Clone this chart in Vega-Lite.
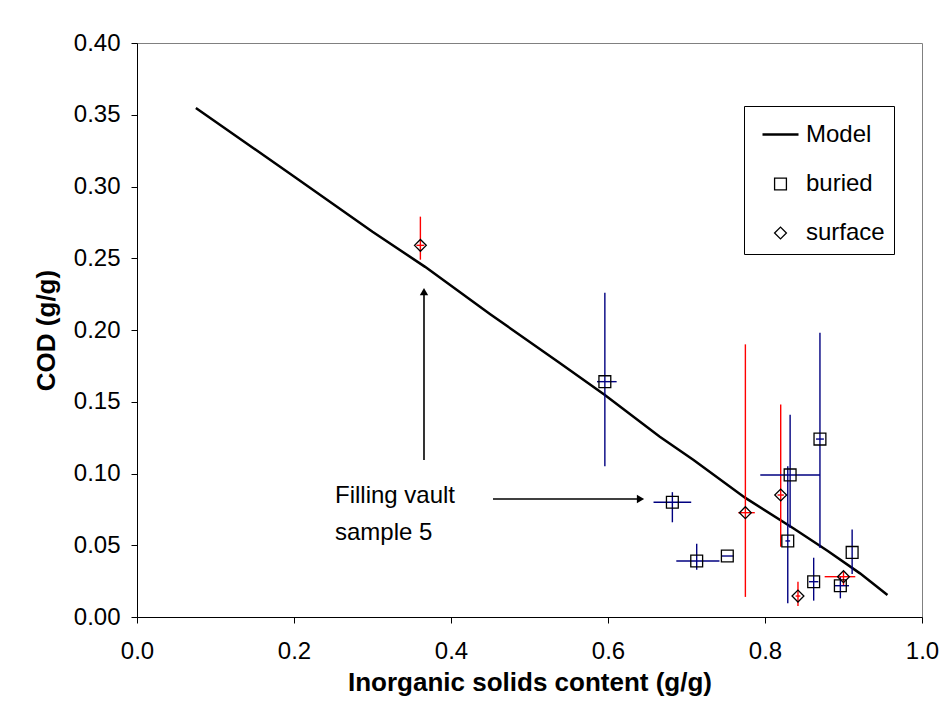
{
  "$schema": "https://vega.github.io/schema/vega-lite/v6.json",
  "width": 785,
  "height": 574,
  "autosize": {"type": "none"},
  "padding": {"left": 137, "top": 43, "right": 23, "bottom": 84},
  "background": "white",
  "config": {
    "font": "Liberation Sans",
    "view": {"stroke": "#808080", "strokeWidth": 1},
    "axis": {
      "grid": false,
      "domainColor": "black",
      "tickColor": "black",
      "labelColor": "black",
      "titleColor": "black",
      "labelFont": "Liberation Sans",
      "titleFont": "Liberation Sans",
      "labelFontSize": 24,
      "titleFontSize": 26,
      "titleFontWeight": "bold",
      "tickSize": 6,
      "domainWidth": 1,
      "tickWidth": 1,
      "labelFlush": false
    },
    "legend": {
      "orient": "none",
      "legendX": 607,
      "legendY": 63,
      "padding": 9,
      "strokeColor": "black",
      "fillColor": "white",
      "cornerRadius": 0,
      "labelFont": "Liberation Sans",
      "labelFontSize": 24,
      "labelColor": "black",
      "labelOffset": 6,
      "symbolOffset": 8,
      "rowPadding": 25,
      "symbolStrokeColor": "black",
      "symbolFillColor": "transparent"
    }
  },
  "datasets": {
    "pts": [
      {"series": "buried", "x": 0.596, "y": 0.164, "ylo": 0.105, "yhi": 0.226, "xlo": 0.586, "xhi": 0.611},
      {"series": "buried", "x": 0.682, "y": 0.080, "ylo": 0.066, "yhi": 0.087, "xlo": 0.658, "xhi": 0.706},
      {"series": "buried", "x": 0.713, "y": 0.039, "ylo": 0.033, "yhi": 0.051, "xlo": 0.687, "xhi": 0.742},
      {"series": "buried", "x": 0.752, "y": 0.0425, "ylo": 0.0425, "yhi": 0.0425, "xlo": 0.745, "xhi": 0.760},
      {"series": "buried", "x": 0.832, "y": 0.099, "ylo": 0.062, "yhi": 0.141, "xlo": 0.794, "xhi": 0.870},
      {"series": "buried", "x": 0.829, "y": 0.053, "ylo": 0.0095, "yhi": 0.105, "xlo": 0.826, "xhi": 0.832},
      {"series": "buried", "x": 0.870, "y": 0.124, "ylo": 0.048, "yhi": 0.198, "xlo": 0.865, "xhi": 0.875},
      {"series": "buried", "x": 0.911, "y": 0.045, "ylo": 0.030, "yhi": 0.061, "xlo": 0.911, "xhi": 0.911},
      {"series": "buried", "x": 0.862, "y": 0.0246, "ylo": 0.0114, "yhi": 0.0413, "xlo": 0.856, "xhi": 0.868},
      {"series": "buried", "x": 0.896, "y": 0.0218, "ylo": 0.013, "yhi": 0.028, "xlo": 0.889, "xhi": 0.907},
      {"series": "surface", "x": 0.361, "y": 0.259, "ylo": 0.249, "yhi": 0.279, "xlo": 0.356, "xhi": 0.366},
      {"series": "surface", "x": 0.775, "y": 0.0727, "ylo": 0.014, "yhi": 0.190, "xlo": 0.766, "xhi": 0.787},
      {"series": "surface", "x": 0.820, "y": 0.085, "ylo": 0.049, "yhi": 0.148, "xlo": 0.816, "xhi": 0.824},
      {"series": "surface", "x": 0.842, "y": 0.0146, "ylo": 0.0077, "yhi": 0.0246, "xlo": 0.839, "xhi": 0.845},
      {"series": "surface", "x": 0.900, "y": 0.0281, "ylo": 0.0223, "yhi": 0.0316, "xlo": 0.876, "xhi": 0.915}
    ],
    "model": [
      {"x": 0.075, "y": 0.3547},
      {"x": 0.2, "y": 0.307},
      {"x": 0.3, "y": 0.2685},
      {"x": 0.367, "y": 0.244},
      {"x": 0.45, "y": 0.211},
      {"x": 0.539, "y": 0.1768},
      {"x": 0.596, "y": 0.1547},
      {"x": 0.666, "y": 0.1256},
      {"x": 0.709, "y": 0.1094},
      {"x": 0.775, "y": 0.083},
      {"x": 0.836, "y": 0.0618},
      {"x": 0.88, "y": 0.046},
      {"x": 0.921, "y": 0.0304},
      {"x": 0.956, "y": 0.0153}
    ],
    "arrows": [
      {"x": 0.3656, "y": 0.1094, "x2": 0.3656, "y2": 0.2268},
      {"x": 0.4535, "y": 0.0822, "x2": 0.6414, "y2": 0.0822}
    ],
    "headUp": [{"x": 0.3656, "y": 0.2268}],
    "headRight": [{"x": 0.6414, "y": 0.0822}],
    "notes": [
      {"x": 0.2522, "y": 0.0842, "text": "Filling vault"},
      {"x": 0.2522, "y": 0.0585, "text": "sample 5"}
    ]
  },
  "layer": [
    {
      "data": {"name": "model"},
      "mark": {"type": "line", "color": "black", "strokeWidth": 2.5},
      "encoding": {
        "x": {"field": "x", "type": "quantitative", "scale": {"domain": [0, 1]}, "axis": {"title": "Inorganic solids content (g/g)", "values": [0, 0.2, 0.4, 0.6, 0.8, 1], "format": ".1f", "labelPadding": 16, "titlePadding": 6}},
        "y": {"field": "y", "type": "quantitative", "scale": {"domain": [0, 0.4]}, "axis": {"title": "COD (g/g)", "values": [0, 0.05, 0.1, 0.15, 0.2, 0.25, 0.3, 0.35, 0.4], "format": ".2f", "labelPadding": 11, "titlePadding": 14}}
      }
    },
    {
      "data": {"name": "pts"},
      "mark": {"type": "rule", "strokeWidth": 1.4},
      "encoding": {
        "x": {"field": "x", "type": "quantitative", "scale": {"domain": [0, 1]}, "axis": {"title": "Inorganic solids content (g/g)", "values": [0, 0.2, 0.4, 0.6, 0.8, 1], "format": ".1f", "labelPadding": 16, "titlePadding": 6}},
        "y": {"field": "ylo", "type": "quantitative", "scale": {"domain": [0, 0.4]}, "axis": {"title": "COD (g/g)", "values": [0, 0.05, 0.1, 0.15, 0.2, 0.25, 0.3, 0.35, 0.4], "format": ".2f", "labelPadding": 11, "titlePadding": 14}},
        "y2": {"field": "yhi"},
        "color": {"field": "series", "type": "nominal", "scale": {"domain": ["buried", "surface"], "range": ["#000080", "#ff0000"]}, "legend": null}
      }
    },
    {
      "data": {"name": "pts"},
      "mark": {"type": "rule", "strokeWidth": 1.4},
      "encoding": {
        "x": {"field": "xlo", "type": "quantitative", "scale": {"domain": [0, 1]}, "axis": {"title": "Inorganic solids content (g/g)", "values": [0, 0.2, 0.4, 0.6, 0.8, 1], "format": ".1f", "labelPadding": 16, "titlePadding": 6}},
        "x2": {"field": "xhi"},
        "y": {"field": "y", "type": "quantitative", "scale": {"domain": [0, 0.4]}, "axis": {"title": "COD (g/g)", "values": [0, 0.05, 0.1, 0.15, 0.2, 0.25, 0.3, 0.35, 0.4], "format": ".2f", "labelPadding": 11, "titlePadding": 14}},
        "color": {"field": "series", "type": "nominal", "scale": {"domain": ["buried", "surface"], "range": ["#000080", "#ff0000"]}, "legend": null}
      }
    },
    {
      "data": {"name": "pts"},
      "mark": {"type": "point", "filled": false, "stroke": "black", "opacity": 1},
      "encoding": {
        "x": {"field": "x", "type": "quantitative", "scale": {"domain": [0, 1]}, "axis": {"title": "Inorganic solids content (g/g)", "values": [0, 0.2, 0.4, 0.6, 0.8, 1], "format": ".1f", "labelPadding": 16, "titlePadding": 6}},
        "y": {"field": "y", "type": "quantitative", "scale": {"domain": [0, 0.4]}, "axis": {"title": "COD (g/g)", "values": [0, 0.05, 0.1, 0.15, 0.2, 0.25, 0.3, 0.35, 0.4], "format": ".2f", "labelPadding": 11, "titlePadding": 14}},
        "shape": {
          "field": "series",
          "type": "nominal",
          "scale": {"type": "ordinal", "domain": ["Model", "buried", "surface"], "range": ["stroke", "square", "diamond"]},
          "legend": {"title": null}
        },
        "size": {
          "field": "series",
          "type": "nominal",
          "scale": {"type": "ordinal", "domain": ["Model", "buried", "surface"], "range": [1296, 140, 140]},
          "legend": {"title": null}
        },
        "strokeWidth": {
          "field": "series",
          "type": "nominal",
          "scale": {"type": "ordinal", "domain": ["Model", "buried", "surface"], "range": [2.5, 1.3, 1.3]},
          "legend": {"title": null}
        }
      }
    },
    {
      "data": {"name": "arrows"},
      "mark": {"type": "rule", "color": "black", "strokeWidth": 1.6},
      "encoding": {
        "x": {"field": "x", "type": "quantitative", "scale": {"domain": [0, 1]}, "axis": {"title": "Inorganic solids content (g/g)", "values": [0, 0.2, 0.4, 0.6, 0.8, 1], "format": ".1f", "labelPadding": 16, "titlePadding": 6}},
        "x2": {"field": "x2"},
        "y": {"field": "y", "type": "quantitative", "scale": {"domain": [0, 0.4]}, "axis": {"title": "COD (g/g)", "values": [0, 0.05, 0.1, 0.15, 0.2, 0.25, 0.3, 0.35, 0.4], "format": ".2f", "labelPadding": 11, "titlePadding": 14}},
        "y2": {"field": "y2"}
      }
    },
    {
      "data": {"name": "headUp"},
      "mark": {"type": "point", "shape": "triangle-up", "filled": true, "color": "black", "size": 70, "opacity": 1},
      "encoding": {
        "x": {"field": "x", "type": "quantitative", "scale": {"domain": [0, 1]}, "axis": {"title": "Inorganic solids content (g/g)", "values": [0, 0.2, 0.4, 0.6, 0.8, 1], "format": ".1f", "labelPadding": 16, "titlePadding": 6}},
        "y": {"field": "y", "type": "quantitative", "scale": {"domain": [0, 0.4]}, "axis": {"title": "COD (g/g)", "values": [0, 0.05, 0.1, 0.15, 0.2, 0.25, 0.3, 0.35, 0.4], "format": ".2f", "labelPadding": 11, "titlePadding": 14}}
      }
    },
    {
      "data": {"name": "headRight"},
      "mark": {"type": "point", "shape": "triangle-right", "filled": true, "color": "black", "size": 70, "opacity": 1},
      "encoding": {
        "x": {"field": "x", "type": "quantitative", "scale": {"domain": [0, 1]}, "axis": {"title": "Inorganic solids content (g/g)", "values": [0, 0.2, 0.4, 0.6, 0.8, 1], "format": ".1f", "labelPadding": 16, "titlePadding": 6}},
        "y": {"field": "y", "type": "quantitative", "scale": {"domain": [0, 0.4]}, "axis": {"title": "COD (g/g)", "values": [0, 0.05, 0.1, 0.15, 0.2, 0.25, 0.3, 0.35, 0.4], "format": ".2f", "labelPadding": 11, "titlePadding": 14}}
      }
    },
    {
      "data": {"name": "notes"},
      "mark": {"type": "text", "align": "left", "baseline": "middle", "font": "Liberation Sans", "fontSize": 24, "color": "black"},
      "encoding": {
        "x": {"field": "x", "type": "quantitative", "scale": {"domain": [0, 1]}, "axis": {"title": "Inorganic solids content (g/g)", "values": [0, 0.2, 0.4, 0.6, 0.8, 1], "format": ".1f", "labelPadding": 16, "titlePadding": 6}},
        "y": {"field": "y", "type": "quantitative", "scale": {"domain": [0, 0.4]}, "axis": {"title": "COD (g/g)", "values": [0, 0.05, 0.1, 0.15, 0.2, 0.25, 0.3, 0.35, 0.4], "format": ".2f", "labelPadding": 11, "titlePadding": 14}},
        "text": {"field": "text"}
      }
    }
  ]
}
